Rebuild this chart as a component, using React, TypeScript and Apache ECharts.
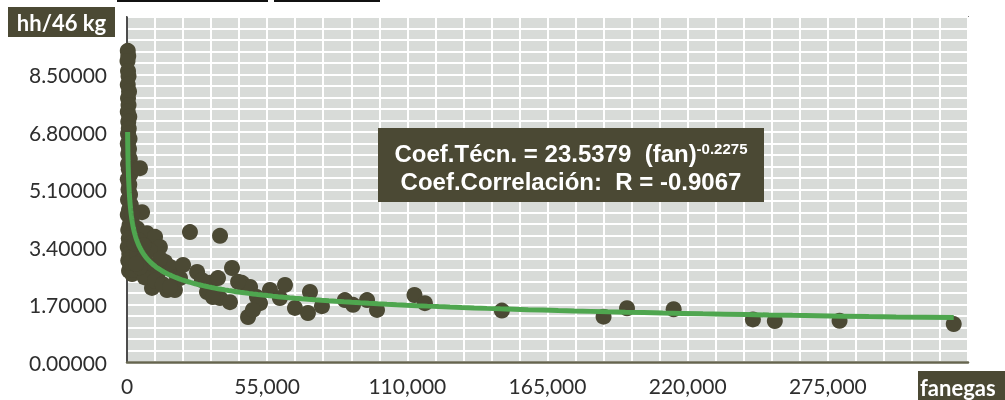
import React, { useEffect, useRef } from "react";
import * as echarts from "echarts";

// Scatter observations (fanegas, hh/46 kg)
const pointsX = [
  300, 500, 200, 400, 600, 300, 800, 400, 600, 300, 900, 500, 700, 400, 1000, 300, 800, 500, 1100, 400,
  700, 1300, 300, 900, 600, 1200, 400, 1500, 800, 300, 1800, 1000, 500, 2200, 700, 1400, 300, 2600, 900, 1800,
  500, 3000, 1200, 2200, 800, 2000,
  5100, 5900, 2000, 4000,
  7800, 11000, 12900, 14900, 16900, 19600, 20800, 9800, 15700, 2400, 1200, 4000, 6000, 8000, 10000, 12000,
  7000, 5000, 3000, 4500, 9000, 13000, 11000, 14000, 18800, 16900, 6500, 3500,
  24700, 36500, 41200, 22000, 27500, 32600, 35700, 36500, 40400, 45100, 48300, 51000, 52200, 47500, 49400,
  56100, 62000, 60000, 65900, 71800, 71000, 76500, 31400, 29400, 33700, 43600,
  85500, 88700, 94200, 98100, 112800, 116900, 147100, 187000, 196200, 214500, 245600, 254200, 279600, 324400,
];
const pointsY = [
  9.2, 9.05, 8.9, 8.6, 8.45, 8.2, 8.0, 7.8, 7.6, 7.4, 7.25, 7.1, 6.9, 6.75, 6.6, 6.45, 6.3, 6.15, 6.0, 5.85,
  5.7, 5.55, 5.4, 5.25, 5.1, 4.95, 4.8, 4.65, 4.5, 4.35, 4.2, 4.05, 3.9, 3.8, 3.65, 3.5, 3.4, 3.3, 3.2, 3.1,
  3.0, 2.95, 2.9, 2.85, 2.7, 2.6,
  5.73, 4.43, 4.4, 3.95,
  3.81, 3.7, 3.4, 2.96, 2.81, 2.51, 2.48, 2.19, 2.13, 2.72, 2.93, 3.2, 3.0, 2.9, 2.75, 2.6,
  2.5, 2.8, 3.5, 3.6, 3.3, 3.05, 2.4, 2.3, 2.13, 2.22, 3.45, 2.9,
  3.84, 3.73, 2.78, 2.87, 2.66, 2.34, 2.48, 1.89, 1.77, 2.34, 2.22, 1.92, 1.74, 1.33, 1.54,
  2.13, 2.28, 1.89, 1.6, 2.07, 1.45, 1.65, 2.07, 2.42, 1.92, 2.37,
  1.83, 1.69, 1.83, 1.54, 1.98, 1.74, 1.52, 1.34, 1.59, 1.56, 1.26, 1.21, 1.22, 1.12,
];

// Fitted power trend shown in the chart: y = a * x^b
const trendCoef = 23.5379;
const trendExp = -0.2275;
const trendRange = [235, 324400];

const yTicks = [0, 1.7, 3.4, 5.1, 6.8, 8.5, 10.2];
const xTicks = [0, 55000, 110000, 165000, 220000, 275000, 330000];

const OLIVE = "#4b4934";

export default function App() {
  const ref = useRef<HTMLDivElement>(null);
  useEffect(() => {
    if (!ref.current) return;
    const chart = echarts.init(ref.current, undefined, { renderer: "svg" });
    const scatter = pointsX.map((x, i) => [x, pointsY[i]]);
    const trend: number[][] = [];
    const n = 200;
    const l0 = Math.log(trendRange[0]);
    const l1 = Math.log(trendRange[1]);
    for (let i = 0; i <= n; i++) {
      const x = Math.exp(l0 + ((l1 - l0) * i) / n);
      trend.push([x, trendCoef * Math.pow(x, trendExp)]);
    }
    const labelFont = { fontFamily: "Lato", fontSize: 21, color: "#2e2e2e" };
    const minorTick = { show: true, splitNumber: 5, length: 0, lineStyle: { opacity: 0 } };
    const white = { show: true, lineStyle: { color: "#ffffff", width: 2 } };
    chart.setOption({
      animation: false,
      grid: {
        left: 127,
        right: 37,
        top: 17,
        bottom: 38,
        show: true,
        backgroundColor: "#d8dbd8",
        borderColor: "#1a1a1a",
        borderWidth: 1.5,
      },
      xAxis: {
        type: "value",
        min: xTicks[0],
        max: xTicks[xTicks.length - 1],
        interval: xTicks[1] - xTicks[0],
        axisLine: { show: true, onZero: false, lineStyle: { color: "#66654f", width: 2.5 } },
        axisTick: { show: false },
        axisLabel: {
          ...labelFont,
          margin: 13,
          showMaxLabel: false,
          formatter: (v: number) => v.toLocaleString("en-US"),
        },
        splitLine: white,
        minorTick,
        minorSplitLine: white,
        z: 1,
      },
      yAxis: {
        type: "value",
        min: yTicks[0],
        max: yTicks[yTicks.length - 1],
        interval: yTicks[1] - yTicks[0],
        axisLine: { show: true, onZero: false, lineStyle: { color: "#111111", width: 1.5 } },
        axisTick: { show: false },
        axisLabel: {
          ...labelFont,
          margin: 20,
          showMaxLabel: false,
          formatter: (v: number) => v.toFixed(5),
        },
        splitLine: white,
        minorTick,
        minorSplitLine: white,
        z: 1,
      },
      series: [
        {
          type: "scatter",
          data: scatter,
          symbolSize: 16,
          itemStyle: { color: OLIVE, opacity: 1 },
          z: 3,
        },
        {
          type: "line",
          data: trend,
          showSymbol: false,
          symbol: "none",
          lineStyle: { color: "#4fa64f", width: 5 },
          z: 4,
        },
      ],
      graphic: [
        { type: "rect", shape: { x: 117, y: 0, width: 151, height: 2 }, style: { fill: "#111" }, z: 10 },
        { type: "rect", shape: { x: 274, y: 0, width: 106, height: 2 }, style: { fill: "#111" }, z: 10 },
        { type: "rect", shape: { x: 8, y: 7, width: 107, height: 30 }, style: { fill: OLIVE }, z: 10 },
        {
          type: "text",
          x: 61.5,
          y: 22,
          style: {
            text: "hh/46 kg",
            font: "bold 22px Lato",
            fill: "#ffffff",
            textAlign: "center",
            textVerticalAlign: "middle",
          },
          z: 11,
        },
        { type: "rect", shape: { x: 918, y: 371, width: 95, height: 35 }, style: { fill: OLIVE }, z: 10 },
        {
          type: "text",
          x: 920,
          y: 387,
          style: {
            text: "fanegas",
            font: "bold 22px Lato",
            fill: "#ffffff",
            textAlign: "left",
            textVerticalAlign: "middle",
          },
          z: 11,
        },
        { type: "rect", shape: { x: 378, y: 128, width: 386, height: 74 }, style: { fill: OLIVE }, z: 10 },
        {
          type: "text",
          x: 571,
          y: 153,
          style: {
            text: "{a|Coef.Técn. = 23.5379  (fan)}{s|-0.2275}",
            fill: "#ffffff",
            textAlign: "center",
            textVerticalAlign: "middle",
            rich: {
              a: { font: "bold 24px 'Liberation Sans'", fill: "#ffffff" },
              s: { font: "bold 15px 'Liberation Sans'", fill: "#ffffff", padding: [0, 0, 10, 0] },
            },
          },
          z: 11,
        },
        {
          type: "text",
          x: 571,
          y: 181,
          style: {
            text: "Coef.Correlación:  R = -0.9067",
            font: "bold 24px 'Liberation Sans'",
            fill: "#ffffff",
            textAlign: "center",
            textVerticalAlign: "middle",
          },
          z: 11,
        },
      ],
    });
    return () => chart.dispose();
  }, []);
  return (
    <div
      ref={ref}
      style={{ position: "fixed", left: 0, top: 0, width: 1005, height: 400 }}
    />
  );
}
